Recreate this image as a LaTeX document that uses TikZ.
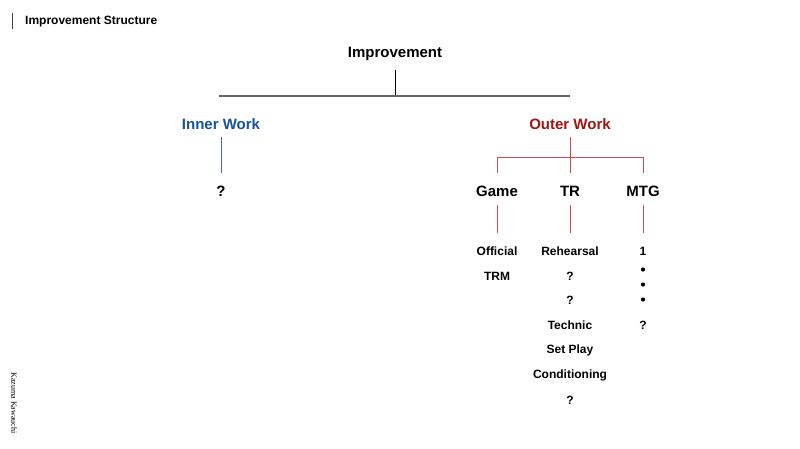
\documentclass[tikz,border=0pt]{standalone}
\usepackage{fontspec}
\setmainfont{Liberation Sans}
\newfontfamily\serifname{Liberation Serif}
\definecolor{linered}{RGB}{200,80,80}
\definecolor{lineblue}{RGB}{70,110,150}
\definecolor{txtblue}{RGB}{22,84,150}
\definecolor{txtred}{RGB}{160,20,20}
\begin{document}
\begin{tikzpicture}[x=1pt,y=-1pt,
  lbl/.style={font=\bfseries\fontsize{12}{14}\selectfont, inner sep=0pt, anchor=center, yshift=-1.5pt},
  head/.style={font=\bfseries\fontsize{15}{18}\selectfont, inner sep=0pt, anchor=center, yshift=-1.5pt},
  redline/.style={draw=linered, line width=0.85pt},
  blueline/.style={draw=lineblue, line width=0.85pt},
  dotnode/.style={circle, fill=black, inner sep=0pt, minimum size=4.2pt}]
\useasboundingbox (0,0) rectangle (800,449);
\fill[white] (0,0) rectangle (800,449);
% title bar
\coordinate (tb1) at (12,13); \coordinate (tb2) at (12,29);
\draw[line width=1pt, black!75] (tb1) -- (tb2);
\node[font=\bfseries\fontsize{12}{14}\selectfont, anchor=west, inner sep=0pt, yshift=-1pt] (title) at (25,21) {Improvement Structure};
% author
\node[font=\serifname\fontsize{8}{9}\selectfont, rotate=-90, inner sep=0pt] (author) at (14,403) {Kazuma Kawauchi};
% root
\node[head] (imp) at (395,52) {Improvement};
\coordinate (r1) at (395,70);
\coordinate (r2) at (395,96);
\coordinate (hl) at (219,96);
\coordinate (hr) at (570,96);
\draw[black, line width=0.8pt] (r1) -- (r2);
\draw[black!60, line width=1.3pt] (hl) -- (hr);
% level 1
\node[head, text=txtblue] (inner) at (221,123) {Inner Work};
\node[head, text=txtred] (outer) at (570,123) {Outer Work};
% inner
\coordinate (i1) at (221,137); \coordinate (i2) at (221,173);
\draw[blueline] (i1) -- (i2);
\node[head] (iq) at (221,190) {?};
% outer branching
\coordinate (o1) at (570,137); \coordinate (o2) at (570,157);
\coordinate (ol) at (497,157); \coordinate (or) at (643,157);
\coordinate (olb) at (497,173); \coordinate (omb) at (570,173); \coordinate (orb) at (643,173);
\draw[redline] (o1) -- (o2);
\draw[redline] (olb) -- (ol) -- (or) -- (orb);
\draw[redline] (o2) -- (omb);
\node[head] (game) at (497,190) {Game};
\node[head] (tr) at (570,190) {TR};
\node[head] (mtg) at (643,190) {MTG};
% lower verticals
\foreach \x/\n in {497/g,570/t,643/m}{
  \coordinate (\n a) at (\x,205);
  \coordinate (\n b) at (\x,233);
  \draw[redline] (\n a) -- (\n b);
}
% lists
\node[lbl] (g1) at (497,250) {Official};
\node[lbl] (g2) at (497,274.5) {TRM};
\node[lbl] (t1) at (570,250) {Rehearsal};
\node[lbl] (t2) at (570,274.5) {?};
\node[lbl] (t3) at (570,299) {?};
\node[lbl] (t4) at (570,324) {Technic};
\node[lbl] (t5) at (570,349) {Set Play};
\node[lbl] (t6) at (570,374) {Conditioning};
\node[lbl] (t7) at (570,399) {?};
\node[lbl] (m1) at (643,250) {1};
\node[dotnode] (md1) at (643,269.5) {};
\node[dotnode] (md2) at (643,284.5) {};
\node[dotnode] (md3) at (643,299.5) {};
\node[lbl] (m2) at (643,324) {?};
\end{tikzpicture}
\end{document}
